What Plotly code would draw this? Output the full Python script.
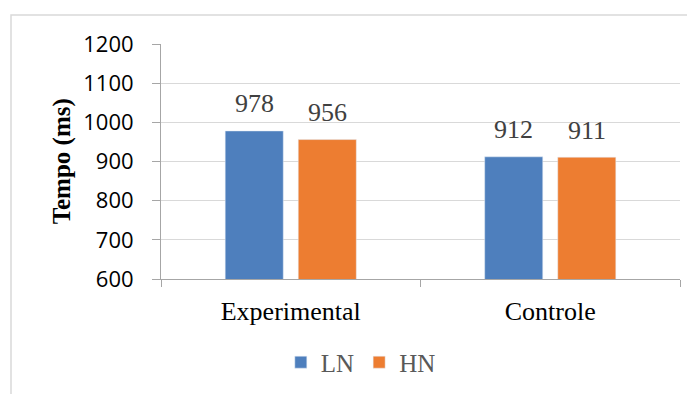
import plotly.graph_objects as go

categories = ["Experimental", "Controle"]
ln_values = [978, 912]
hn_values = [956, 911]
series_names = ["LN", "HN"]
y_ticks = [600, 700, 800, 900, 1000, 1100, 1200]

blue = "#4e7fbd"
orange = "#ed7d31"

fig = go.Figure()
fig.add_trace(go.Bar(x=categories, y=ln_values, name=series_names[0], marker_color=blue))
fig.add_trace(go.Bar(x=categories, y=hn_values, name=series_names[1], marker_color=orange))

annotations = []
for vals, shift in ((ln_values, -36.5), (hn_values, 36.5)):
    for c, v in zip(categories, vals):
        annotations.append(dict(x=c, y=v, text=str(v), showarrow=False, xshift=shift,
                                yshift=27, xref="x", yref="y",
                                font=dict(family="Liberation Serif", size=26, color="#404040")))
annotations.append(dict(x=-0.191, y=0.5, xref="paper", yref="paper", text="<b>Tempo (ms)</b>",
                        textangle=-90, showarrow=False, xanchor="center", yanchor="middle",
                        font=dict(family="Liberation Serif", size=25, color="black")))

fig.update_layout(
    width=687, height=386,
    margin=dict(l=153, r=15, t=36, b=115, autoexpand=False),
    paper_bgcolor="white", plot_bgcolor="white",
    barmode="group", bargap=0.437, bargroupgap=0.205,
    showlegend=True,
    legend=dict(orientation="h", x=0.385, y=-0.355, xanchor="center", yanchor="middle",
                font=dict(family="Liberation Serif", size=25, color="#595959"),
                itemwidth=30, traceorder="normal", tracegroupgap=0),
    annotations=annotations,
    shapes=[dict(type="rect", xref="paper", yref="paper", x0=-0.289, x1=1.2,
                 y0=-0.7, y1=1.1234, line=dict(color="#d9d9d9", width=1.5),
                 fillcolor="rgba(0,0,0,0)", layer="below")],
)
fig.update_yaxes(range=[600, 1200], tickvals=y_ticks, showgrid=True, gridcolor="#d9d9d9",
                 showline=True, linecolor="#a6a6a6", ticks="outside", ticklen=8,
                 tickcolor="#a6a6a6", zeroline=False, automargin=False,
                 ticklabelstandoff=14,
                 tickfont=dict(family="Open Sans", size=22, color="black"))
fig.update_xaxes(showline=True, linecolor="#a6a6a6", ticks="outside", ticklen=7,
                 tickcolor="#a6a6a6", tickson="boundaries", automargin=False,
                 ticklabelstandoff=9,
                 tickfont=dict(family="Liberation Serif", size=26, color="black"))
fig.write_html("out.html")
